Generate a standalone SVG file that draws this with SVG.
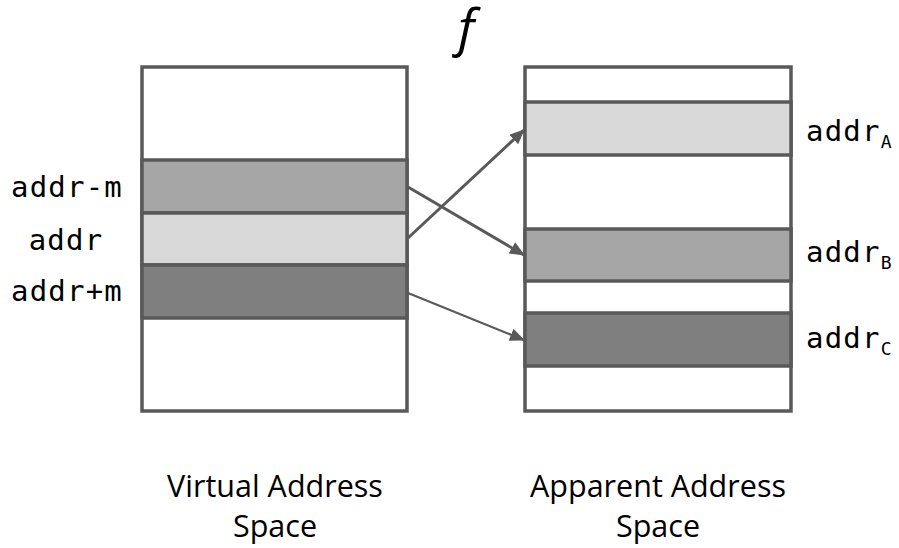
<svg xmlns="http://www.w3.org/2000/svg" width="899" height="548" viewBox="0 0 899 548">
  <style>
    .box { fill: #ffffff; stroke: #595959; stroke-width: 3.5; }
    .band { stroke: #595959; stroke-width: 3.5; }
    .light { fill: #d9d9d9; }
    .mid { fill: #a6a6a6; }
    .dark { fill: #7f7f7f; }
    .mono { font-family: "DejaVu Sans Mono", "Liberation Mono", monospace; font-size: 29px; fill: #000; letter-spacing: 1.2px; }
    .sub { font-family: "DejaVu Sans Mono", "Liberation Mono", monospace; font-size: 18px; fill: #000; letter-spacing: 0; }
    .cap { font-family: "Open Sans", "Noto Sans", sans-serif; font-size: 30.5px; fill: #000; text-anchor: middle; }
    .conn { stroke: #595959; fill: none; }
  </style>
  <defs>
    <marker id="ah" markerUnits="userSpaceOnUse" markerWidth="16" markerHeight="14" refX="14" refY="6.5" orient="auto">
      <path d="M0,0 L15,6.5 L0,13 z" fill="#595959"/>
    </marker>
  </defs>

  <text x="466" y="46" font-family="Open Sans, Noto Sans, sans-serif" font-style="italic" font-size="52" text-anchor="middle" fill="#000">f</text>

  <g id="virtual-space">
    <rect class="box" x="142" y="67" width="265" height="344"/>
    <rect class="band mid" x="142" y="160" width="265" height="53"/>
    <rect class="band light" x="142" y="213" width="265" height="52"/>
    <rect class="band dark" x="142" y="265" width="265" height="53"/>
    <text class="mono" x="67" y="197" text-anchor="middle">addr-m</text>
    <text class="mono" x="66" y="250" text-anchor="middle">addr</text>
    <text class="mono" x="67" y="301" text-anchor="middle">addr+m</text>
    <text class="cap" x="275" y="497">Virtual Address</text>
    <text class="cap" x="275" y="537">Space</text>
  </g>

  <g id="apparent-space">
    <rect class="box" x="525" y="67" width="266" height="344"/>
    <rect class="band light" x="525" y="102" width="266" height="53"/>
    <rect class="band mid" x="525" y="229" width="266" height="52"/>
    <rect class="band dark" x="525" y="313" width="266" height="53"/>
    <text class="mono" x="806" y="141">addr<tspan class="sub" dy="7">A</tspan></text>
    <text class="mono" x="806" y="262">addr<tspan class="sub" dy="7">B</tspan></text>
    <text class="mono" x="806" y="348">addr<tspan class="sub" dy="7">C</tspan></text>
    <text class="cap" x="658" y="497">Apparent Address</text>
    <text class="cap" x="658" y="537">Space</text>
  </g>

  <g id="connectors">
    <line class="conn" x1="408" y1="187" x2="524" y2="255" stroke-width="3" marker-end="url(#ah)"/>
    <line class="conn" x1="408" y1="238" x2="524" y2="130" stroke-width="3" marker-end="url(#ah)"/>
    <line class="conn" x1="408" y1="293" x2="524" y2="340" stroke-width="2.2" marker-end="url(#ah)"/>
  </g>
</svg>
